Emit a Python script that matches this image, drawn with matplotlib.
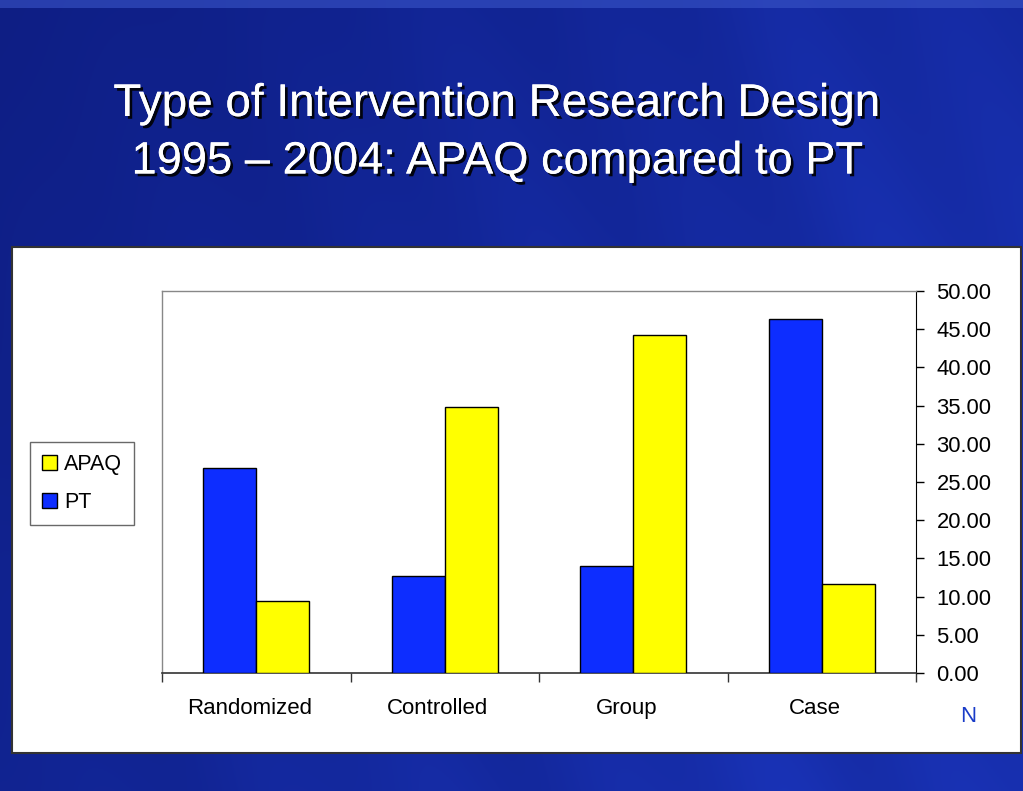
import numpy as np
import matplotlib
matplotlib.use("Agg")
import matplotlib.pyplot as plt
from matplotlib.patches import Rectangle
import matplotlib.patheffects as pe
import matplotlib.transforms as mtransforms

categories = ["Randomized", "Controlled", "Group", "Case"]
pt_values = [26.8, 12.7, 14.0, 46.4]
apaq_values = [9.4, 34.8, 44.2, 11.6]
yticks = [0, 5, 10, 15, 20, 25, 30, 35, 40, 45, 50]
title_lines = ["Type of Intervention Research Design", "1995 \u2013 2004: APAQ compared to PT"]

plt.rcParams['font.family'] = ['Liberation Sans', 'DejaVu Sans']

W, H = 1023, 791
fig = plt.figure(figsize=(W / 100, H / 100), dpi=100)

# ---- slide background (decorative gradient with diagonal streaks) ----
bg = fig.add_axes([0, 0, 1, 1])
bg.set_xlim(0, W)
bg.set_ylim(H, 0)
bg.axis('off')
yy, xx = np.mgrid[0:H:2, 0:W:2]
t = (xx * 0.9 + yy * 0.45) / W
diag = xx - yy * 0.45
streak = 0.5 + 0.5 * np.sin(diag / 38.0) * np.sin(diag / 97.0)
base = np.array([0.04, 0.09, 0.45])
light = np.array([0.10, 0.20, 0.72])
mix = np.clip(0.25 + 0.45 * t + 0.25 * streak * t, 0, 1)[..., None]
img = base * (1 - mix) + light * mix
bg.imshow(img, extent=[0, W, H, 0], aspect='auto', zorder=0)
bg.add_patch(Rectangle((0, 0), W, 8, facecolor='#3a55c8', edgecolor='none', alpha=0.6, zorder=0.5))

# white chart panel
bg.add_patch(Rectangle((12, 247), 1009, 506, facecolor='white',
                       edgecolor='#333333', linewidth=1.5, zorder=1))

# title
for i, (line, fs) in enumerate(zip(title_lines, [33, 32.6])):
    bg.text(497, 104 + i * 58, line, color='white', fontsize=fs, ha='center', va='center',
            zorder=3, path_effects=[pe.withSimplePatchShadow(offset=(2, -2), shadow_rgbFace='#000000', alpha=0.9),
                                    pe.Normal()])

# ---- chart axes ----
ax = fig.add_axes([162 / W, 118 / H, 754 / W, 382 / H])
ax.set_facecolor('white')
x = np.arange(len(categories))
width = 0.28
pt_x = x + 0.36
ap_x = x + 0.64
ax.bar(pt_x, pt_values, width, color='#0d2dff', edgecolor='black', linewidth=1.0, label='PT', zorder=3)
ax.bar(ap_x, apaq_values, width, color='#ffff00', edgecolor='black', linewidth=1.0, label='APAQ', zorder=3)

ax.set_xlim(0, len(categories))
ax.set_ylim(0, 50)

ax.yaxis.tick_right()
ax.set_yticks(yticks)
ax.set_yticklabels([f"{v:.2f}" for v in yticks], fontsize=15.8)
ax.tick_params(axis='y', direction='out', length=5.8, width=1, pad=9, color='black')

ax.set_xticks(np.arange(0, len(categories) + 1))
ax.set_xticklabels([])
ax.set_xticks(x + 0.5, minor=True)
ax.set_xticklabels(categories, minor=True, fontsize=16)
ax.tick_params(axis='x', which='major', direction='out', length=6.5, width=1, color='#333333')
ax.tick_params(axis='x', which='minor', length=0, pad=18)
shift = mtransforms.ScaledTranslation(-7 / 100, 0, fig.dpi_scale_trans)
for lbl in ax.get_xticklabels(minor=True):
    lbl.set_transform(lbl.get_transform() + shift)

for s in ['left', 'top']:
    ax.spines[s].set_color('#888888')
    ax.spines[s].set_linewidth(1)
ax.spines['right'].set_color('black')
ax.spines['bottom'].set_color('#333333')
ax.spines['bottom'].set_linewidth(1.2)

# "N" label
fig.text(968 / W, 1 - 717 / H, "N", color='#1a3cc8', fontsize=16, ha='center', va='center')

# legend
handles, labels = ax.get_legend_handles_labels()
leg = fig.legend(handles[::-1], labels[::-1], loc='upper left',
                 bbox_to_anchor=(30 / W, 1 - 442 / H), fontsize=15.5, frameon=True,
                 fancybox=False, edgecolor='#444444', handlelength=0.7, handleheight=0.7,
                 handletextpad=0.35, labelspacing=0.8, borderpad=0.55, borderaxespad=0)
leg.get_frame().set_linewidth(1)

fig.savefig("out.png", dpi=100)
